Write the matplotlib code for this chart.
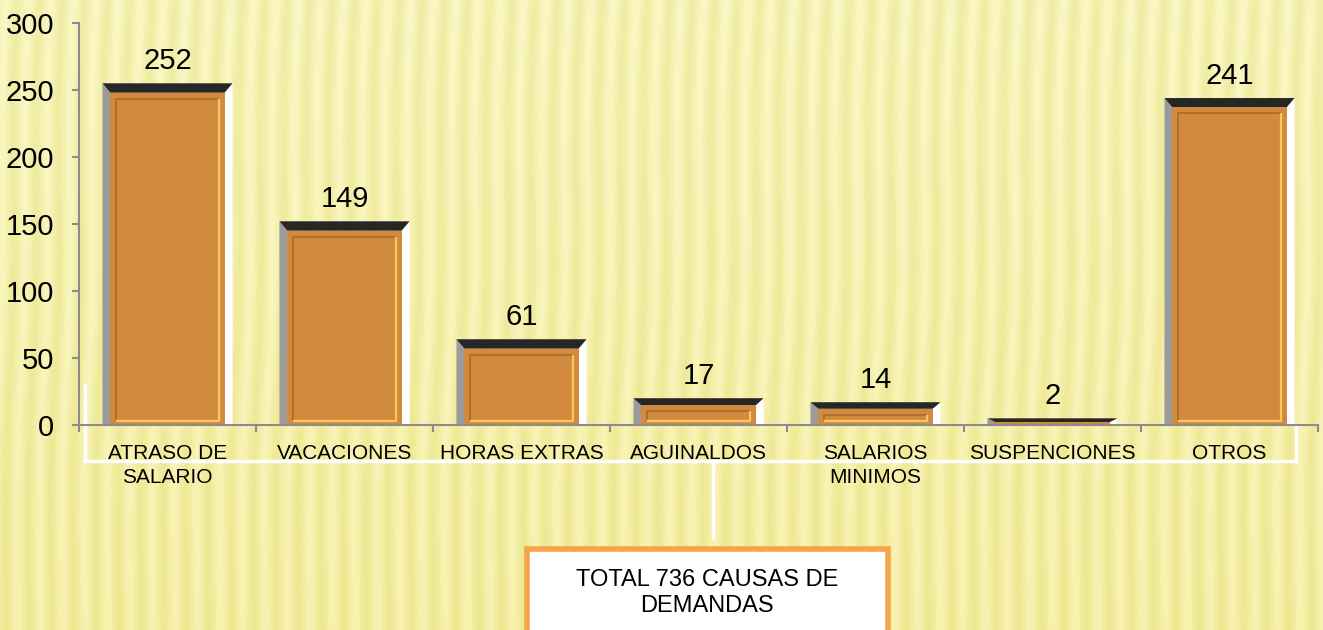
import numpy as np
import matplotlib.pyplot as plt
from matplotlib.patches import Polygon, Rectangle
from matplotlib.lines import Line2D

categories = ['ATRASO DE\nSALARIO', 'VACACIONES', 'HORAS EXTRAS', 'AGUINALDOS',
              'SALARIOS\nMINIMOS', 'SUSPENCIONES', 'OTROS']
counts = [252, 149, 61, 17, 14, 2, 241]
y_ticks = [0, 50, 100, 150, 200, 250, 300]
total_label = 'TOTAL 736 CAUSAS DE\nDEMANDAS'

W, H = 1323, 630
num_font = 'Liberation Sans'
cat_font = 'Liberation Sans'

fig = plt.figure(figsize=(W / 100, H / 100), dpi=100)


def px(x, y):
    # pixel position -> figure fraction
    return x / W, 1 - y / H


# striped yellow backdrop
bg = fig.add_axes([0, 0, 1, 1], zorder=0)
yy, xx = np.mgrid[0:H, 0:W]
wave = np.sin(2 * np.pi * (xx + 2.0 * np.sin(yy / 60.0) + 0.02 * yy) / 22.5)
t = (0.5 + 0.5 * wave)[..., None]
light = np.array([250, 247, 196]) / 255
dark = np.array([241, 237, 166]) / 255
img = dark + (light - dark) * t
img = img - (yy / H)[..., None] * np.array([0.01, 0.02, 0.08])
bg.imshow(np.clip(img, 0, 1), aspect='auto', interpolation='bilinear')
bg.axis('off')

# main chart area
l, b = px(79, 425)
r, tp = px(1318, 23)
ax = fig.add_axes([l, b, r - l, tp - b], zorder=2)
ax.set_facecolor('none')
ax.set_xlim(0, len(categories))
ax.set_ylim(0, 300)

bar_w = 0.735
bev_x = 8 / 177
for i, v in enumerate(counts):
    cx = i + 0.5
    x0, x1 = cx - bar_w / 2, cx + bar_w / 2
    top = v + 3
    bh = min(7, 2 + 0.17 * top)
    # left grey bevel, right white bevel, dark top
    ax.add_patch(Polygon([(x0, 0), (x0, top), (x0 + bev_x, top - bh), (x0 + bev_x, 0)],
                         closed=True, facecolor='#9b9b9b', edgecolor='none'))
    ax.add_patch(Polygon([(x1, 0), (x1, top), (x1 - bev_x, top - bh), (x1 - bev_x, 0)],
                         closed=True, facecolor='white', edgecolor='none'))
    ax.add_patch(Polygon([(x0, top), (x1, top), (x1 - bev_x, top - bh), (x0 + bev_x, top - bh)],
                         closed=True, facecolor='#262626', edgecolor='none'))
    # orange face
    fx0, fx1 = x0 + bev_x, x1 - bev_x
    fh = top - bh
    ax.add_patch(Rectangle((fx0, 0), fx1 - fx0, fh, facecolor='#D18A3E', edgecolor='none'))
    # inner frame
    ix, iy = 0.034, 4.5
    if fh > 2 * iy + 1:
        a0, a1 = fx0 + ix, fx1 - ix
        b0, b1 = iy * 0.6, fh - iy
        ax.plot([a0, a0, a1], [b0, b1, b1], color='#A96B2B', lw=1.2, solid_capstyle='butt')
        ax.plot([a0, a1, a1], [b0, b0, b1], color='#F7C85C', lw=1.6, solid_capstyle='butt')
    ax.annotate(str(v), (cx, top), xytext=(0, 6), textcoords='offset points',
                ha='center', va='bottom', fontsize=21, family=num_font)

for side in ['top', 'right']:
    ax.spines[side].set_visible(False)
for side in ['left', 'bottom']:
    ax.spines[side].set_color('#8c8c8c')
    ax.spines[side].set_linewidth(1.5)

ax.set_yticks(y_ticks)
ax.set_yticklabels([str(v) for v in y_ticks], fontsize=21, family=num_font)
ax.tick_params(axis='y', length=5, width=1.5, color='#8c8c8c', pad=13)

ax.set_xticks(np.arange(len(categories) + 1))
ax.set_xticklabels([])
ax.tick_params(axis='x', which='major', length=5, width=1.5, color='#8c8c8c')
ax.set_xticks(np.arange(len(categories)) + 0.5, minor=True)
ax.set_xticklabels(categories, minor=True, fontsize=15, family=cat_font, linespacing=1.3)
ax.tick_params(axis='x', which='minor', length=0, pad=14)

# white bracket under the axis
for xs, ys in [([85, 85], [385, 461]), ([85, 1296], [461, 461]),
               ([1296, 1296], [425, 461]), ([713, 713], [461, 538])]:
    pts = [px(x, y) for x, y in zip(xs, ys)]
    fig.add_artist(Line2D([p[0] for p in pts], [p[1] for p in pts], color='white',
                          lw=2.5, transform=fig.transFigure, zorder=1))

# total box
bx0, by0 = px(527, 645)
bx1, by1 = px(888, 549)
fig.add_artist(Rectangle((bx0, by0), bx1 - bx0, by1 - by0, transform=fig.transFigure,
                         facecolor='white', edgecolor='#F4A54A', lw=4, zorder=3))
tx, ty = px(707, 593)
fig.text(tx, ty, total_label, ha='center', va='center', fontsize=17, family=cat_font,
         linespacing=1.2, zorder=4)

fig.savefig('out.png', dpi=100)
